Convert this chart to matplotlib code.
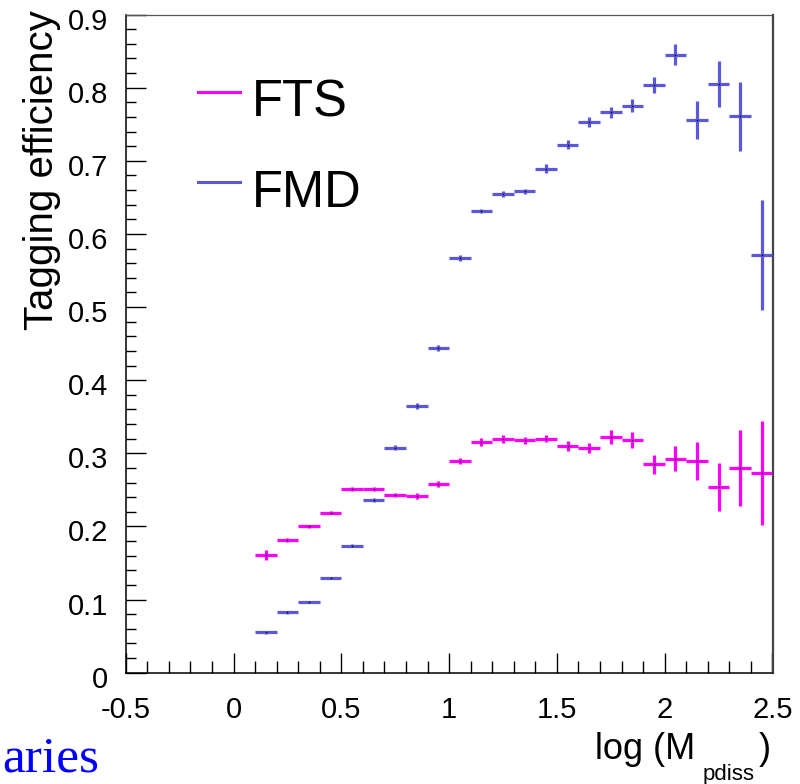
import matplotlib
matplotlib.use("Agg")
import matplotlib.pyplot as plt
from matplotlib.lines import Line2D
from matplotlib.transforms import ScaledTranslation
from matplotlib.ticker import FixedLocator, MultipleLocator

plt.rcParams["font.family"] = ["Liberation Sans", "DejaVu Sans"]
plt.rcParams["axes.unicode_minus"] = False

# log(M_pdiss) bin centres (bin width 0.1)
bin_centres = [0.15, 0.25, 0.35, 0.45, 0.55, 0.65, 0.75, 0.85, 0.95, 1.05,
               1.15, 1.25, 1.35, 1.45, 1.55, 1.65, 1.75, 1.85, 1.95, 2.05,
               2.15, 2.25, 2.35, 2.45]
bin_half_width = 0.05

fts_eff = [0.161, 0.1815, 0.200, 0.219, 0.2516, 0.2516, 0.243, 0.2416, 0.2576, 0.289,
           0.3155, 0.320, 0.3178, 0.320, 0.310, 0.3077, 0.3223, 0.3178, 0.285, 0.2927,
           0.289, 0.2535, 0.2804, 0.2727]
fts_err = [0.007, 0.003, 0.002, 0.002, 0.003, 0.003, 0.003, 0.0035, 0.004, 0.004,
           0.0055, 0.0055, 0.005, 0.005, 0.007, 0.007, 0.009, 0.011, 0.013, 0.017,
           0.026, 0.033, 0.052, 0.071]

fmd_eff = [0.0552, 0.0826, 0.0971, 0.1295, 0.1737, 0.236, 0.3077, 0.365, 0.4436, 0.567,
           0.631, 0.654, 0.658, 0.689, 0.722, 0.753, 0.766, 0.775, 0.803, 0.845,
           0.756, 0.805, 0.761, 0.571]
fmd_err = [0.002, 0.002, 0.001, 0.0015, 0.002, 0.003, 0.003, 0.004, 0.004, 0.004,
           0.003, 0.004, 0.004, 0.006, 0.006, 0.007, 0.008, 0.009, 0.011, 0.014,
           0.026, 0.031, 0.047, 0.075]

series_names = ["FTS", "FMD"]
series_colors = ["#ff00ff", "#5c58dc"]

x_ticks = [-0.5, 0, 0.5, 1, 1.5, 2, 2.5]
x_tick_labels = ["-0.5", "0", "0.5", "1", "1.5", "2", "2.5"]
y_ticks = [0, 0.1, 0.2, 0.3, 0.4, 0.5, 0.6, 0.7, 0.8, 0.9]
y_tick_labels = ["0", "0.1", "0.2", "0.3", "0.4", "0.5", "0.6", "0.7", "0.8", "0.9"]

W, H = 800, 784
fig = plt.figure(figsize=(W / 100, H / 100), dpi=100)


def fx(px):
    return px / W


def fy(py):
    return 1 - py / H


ax = fig.add_axes([fx(125.7), fy(672.7), fx(772.5) - fx(125.7), fy(14.5) - fy(672.7)])

for eff, err, col in [(fts_eff, fts_err, series_colors[0]), (fmd_eff, fmd_err, series_colors[1])]:
    ax.errorbar(bin_centres, eff, xerr=bin_half_width, yerr=err, fmt="none",
                ecolor=col, elinewidth=2.3, capsize=0, zorder=3)
    ax.plot(bin_centres, eff, linestyle="none", marker="s", markersize=1.0,
            markeredgewidth=0, color="black", zorder=4)

ax.set_xlim(-0.5, 2.5)
ax.set_ylim(0, 0.9)

ax.xaxis.set_major_locator(FixedLocator(x_ticks))
ax.set_xticklabels(x_tick_labels)
ax.xaxis.set_minor_locator(MultipleLocator(0.1))
ax.yaxis.set_major_locator(FixedLocator(y_ticks))
ax.set_yticklabels(y_tick_labels)
ax.yaxis.set_minor_locator(MultipleLocator(0.02))

ax.tick_params(axis="x", which="major", direction="in", length=14.6, width=1.0,
               labelsize=21, pad=16.5, top=False)
ax.tick_params(axis="x", which="minor", direction="in", length=8.4, width=1.0, top=False)
ax.tick_params(axis="y", which="major", direction="in", length=14.4, width=1.0,
               labelsize=21, pad=12.5, right=False)
ax.tick_params(axis="y", which="minor", direction="in", length=7.4, width=1.0, right=False)

# ROOT-style labels sit slightly below their ticks
for lab in ax.get_yticklabels():
    lab.set_transform(lab.get_transform() + ScaledTranslation(0, -4 / 100, fig.dpi_scale_trans))

ax.spines["left"].set_linewidth(1.1)
ax.spines["bottom"].set_linewidth(1.1)
ax.spines["top"].set_linewidth(0.9)
ax.spines["top"].set_color("#555555")
ax.spines["right"].set_linewidth(1.6)
ax.spines["right"].set_color("#444444")

# y-axis title, right-aligned to the top of the axis
fig.text(fx(53), fy(10), "Tagging efficiency", rotation=90, rotation_mode="anchor",
         ha="right", va="baseline", fontsize=29)

# x-axis title: log (M_pdiss)
fig.text(fx(595), fy(759), "log (M", ha="left", va="baseline", fontsize=26)
fig.text(fx(703), fy(780), "pdiss", ha="left", va="baseline", fontsize=16)
fig.text(fx(759), fy(759), ")", ha="left", va="baseline", fontsize=26)

# legend entries
legend_rows = [(91.7, 116.7), (182.3, 206.7)]
for name, col, (ly, by) in zip(series_names, series_colors, legend_rows):
    fig.add_artist(Line2D([fx(198), fx(240)], [fy(ly), fy(ly)], color=col, linewidth=2.2))
    fig.text(fx(252), fy(by), name, ha="left", va="baseline", fontsize=36.5)

# slide caption fragment in the lower-left corner
fig.text(fx(2), fy(783), "aries", ha="left", va="bottom", fontsize=37,
         family=["Liberation Serif", "DejaVu Serif"], color="#0000ff")

fig.savefig("out.png", dpi=100)
